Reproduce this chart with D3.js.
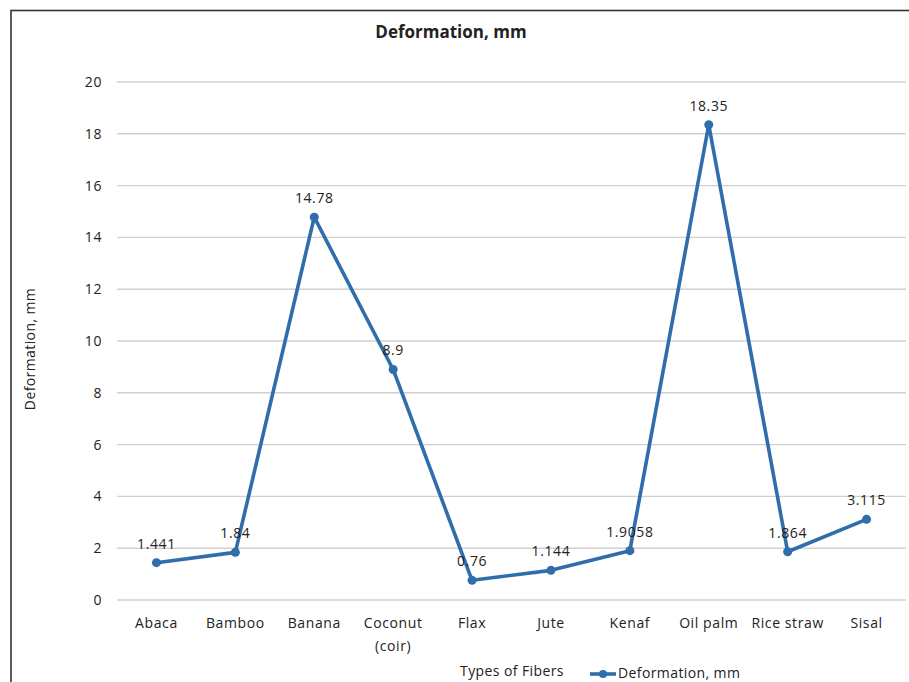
<!DOCTYPE html>
<html>
<head>
<meta charset="utf-8">
<script src="https://cdn.jsdelivr.net/npm/d3@7"></script>
<style>
  html, body { margin: 0; padding: 0; background: #fff; }
  svg { display: block; }
  text { font-family: "Open Sans", "Noto Sans", sans-serif; fill: #222; }
</style>
</head>
<body>
<div id="chart"></div>
<script>
// Fibre types and their measured deformation (mm)
const categories = ["Abaca", "Bamboo", "Banana", "Coconut (coir)", "Flax", "Jute", "Kenaf", "Oil palm", "Rice straw", "Sisal"];
const deformation = [1.441, 1.84, 14.78, 8.9, 0.76, 1.144, 1.9058, 18.35, 1.864, 3.115];
const valueLabels = ["1.441", "1.84", "14.78", "8.9", "0.76", "1.144", "1.9058", "18.35", "1.864", "3.115"];
const yTicks = [0, 2, 4, 6, 8, 10, 12, 14, 16, 18, 20];

const W = 909, H = 682;
const margin = { left: 117, right: 3 };
const lineColor = "#2f6eab";
const fontSize = "14px";
const spacing = "0.6px";

const svg = d3.select("#chart").append("svg")
  .attr("width", W).attr("height", H);

svg.append("rect").attr("width", W).attr("height", H).attr("fill", "#fff");

// chart area frame (extends past the right and bottom edges)
svg.append("rect")
  .attr("x", 11).attr("y", 10.5)
  .attr("width", 1000).attr("height", 1000)
  .attr("fill", "none").attr("stroke", "#333").attr("stroke-width", 1.6);

const x = d3.scaleBand()
  .domain(categories)
  .range([margin.left, W - margin.right]);

const y = d3.scaleLinear()
  .domain([0, 20])
  .range([600, 82]);

// horizontal gridlines
svg.append("g")
  .selectAll("line")
  .data(yTicks)
  .join("line")
  .attr("x1", margin.left).attr("x2", W - margin.right)
  .attr("y1", d => y(d)).attr("y2", d => y(d))
  .attr("stroke", "#d0d0d0").attr("stroke-width", 1.4);

// y axis tick labels
const yAxis = d3.axisLeft(y).tickValues(yTicks).tickSize(0).tickPadding(0);
const gy = svg.append("g").attr("transform", "translate(102,0)").call(yAxis);
gy.select(".domain").remove();
gy.selectAll("text")
  .style("font-family", "'Open Sans', sans-serif")
  .style("font-size", fontSize)
  .style("letter-spacing", spacing)
  .attr("fill", "#222");

// x axis category labels (wrapped on spaces for "Coconut (coir)")
const xAxis = d3.axisBottom(x).tickSize(0).tickPadding(0);
const gx = svg.append("g").attr("transform", "translate(0,618)").call(xAxis);
gx.select(".domain").remove();
gx.selectAll("text")
  .style("font-family", "'Open Sans', sans-serif")
  .style("font-size", fontSize)
  .style("letter-spacing", spacing)
  .attr("fill", "#222")
  .each(function (d) {
    if (d === "Coconut (coir)") {
      const t = d3.select(this);
      t.text(null);
      t.append("tspan").attr("x", 0).attr("dy", "0.71em").text("Coconut");
      t.append("tspan").attr("x", 0).attr("dy", "1.65em").text("(coir)");
    }
  });

// series line
const pts = categories.map((c, i) => ({ c, v: deformation[i], label: valueLabels[i] }));
const line = d3.line()
  .x(d => x(d.c) + x.bandwidth() / 2)
  .y(d => y(d.v));

svg.append("path")
  .datum(pts)
  .attr("d", line)
  .attr("fill", "none")
  .attr("stroke", lineColor)
  .attr("stroke-width", 3.6)
  .attr("stroke-linejoin", "round");

svg.append("g")
  .selectAll("circle")
  .data(pts)
  .join("circle")
  .attr("cx", d => x(d.c) + x.bandwidth() / 2)
  .attr("cy", d => y(d.v))
  .attr("r", 4.5)
  .attr("fill", lineColor);

// data labels
svg.append("g")
  .selectAll("text")
  .data(pts)
  .join("text")
  .attr("x", d => x(d.c) + x.bandwidth() / 2)
  .attr("y", d => y(d.v) - 14)
  .attr("text-anchor", "middle")
  .style("font-size", fontSize)
  .style("letter-spacing", spacing)
  .attr("fill", "#222")
  .text(d => d.label);

// title
svg.append("text")
  .attr("x", 451).attr("y", 38)
  .attr("text-anchor", "middle")
  .style("font-size", "17px")
  .style("font-weight", "bold")
  .attr("fill", "#111")
  .text("Deformation, mm");

// y axis title
svg.append("text")
  .attr("transform", "translate(35,349) rotate(-90)")
  .attr("text-anchor", "middle")
  .style("font-size", fontSize)
  .style("letter-spacing", "0.4px")
  .text("Deformation, mm");

// x axis title
svg.append("text")
  .attr("x", 512).attr("y", 676)
  .attr("text-anchor", "middle")
  .style("font-size", fontSize)
  .style("letter-spacing", "0.4px")
  .text("Types of Fibers");

// legend
const lg = svg.append("g").attr("transform", "translate(590,674)");
lg.append("line").attr("x1", 0).attr("x2", 26).attr("y1", 0).attr("y2", 0)
  .attr("stroke", lineColor).attr("stroke-width", 3.6);
lg.append("circle").attr("cx", 13).attr("cy", 0).attr("r", 4).attr("fill", lineColor);
lg.append("text").attr("x", 28).attr("y", 4)
  .style("font-size", fontSize)
  .style("letter-spacing", "0.4px")
  .text("Deformation, mm");
</script>
</body>
</html>
